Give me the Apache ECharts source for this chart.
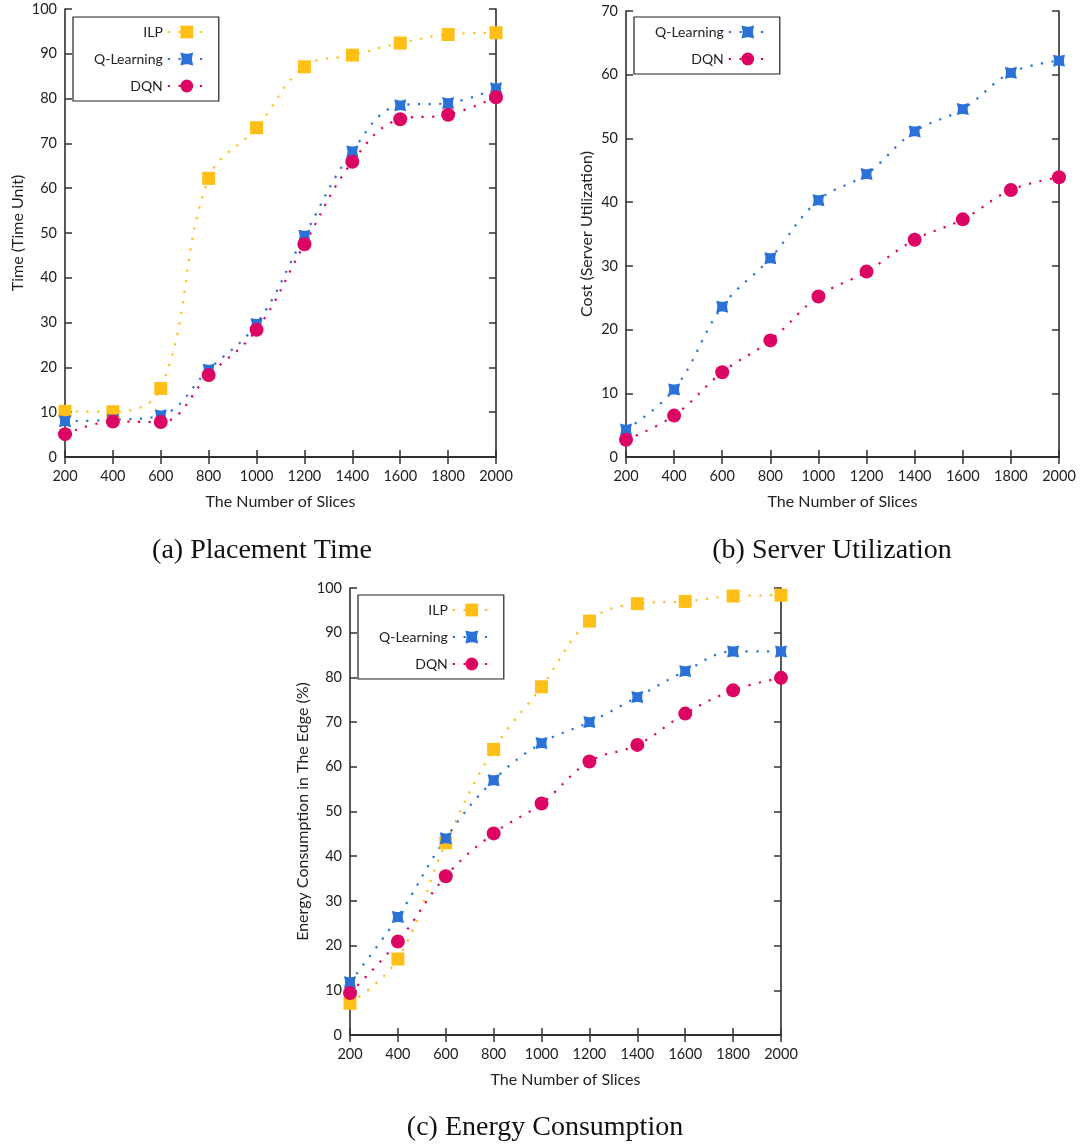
<!DOCTYPE html>
<html>
<head>
<meta charset="utf-8">
<script src="https://cdn.jsdelivr.net/npm/echarts@6/dist/echarts.min.js"></script>
<style>
  html, body { margin: 0; padding: 0; background: #fff; }
  #chart { width: 1090px; height: 1144px; }
</style>
</head>
<body>
<div id="chart"></div>
<script>
// x 轴：切片数量
var slices = [200, 400, 600, 800, 1000, 1200, 1400, 1600, 1800, 2000];

// (a) 放置时间
var timeILP = [10.2, 10.1, 15.3, 62.2, 73.5, 87.1, 89.7, 92.4, 94.3, 94.7];
var timeQL  = [8.0, 8.3, 9.3, 19.5, 29.7, 49.4, 68.2, 78.5, 79.0, 82.3];
var timeDQN = [5.1, 7.9, 7.8, 18.3, 28.4, 47.5, 65.9, 75.4, 76.4, 80.3];

// (b) 服务器利用率
var costQL  = [4.3, 10.6, 23.6, 31.2, 40.3, 44.4, 51.1, 54.6, 60.3, 62.2];
var costDQN = [2.7, 6.5, 13.3, 18.3, 25.2, 29.1, 34.1, 37.3, 41.9, 43.9];

// (c) 能耗
var energyILP = [7.1, 17.0, 43.0, 63.9, 77.9, 92.6, 96.5, 97.0, 98.2, 98.4];
var energyQL  = [11.8, 26.4, 44.0, 57.0, 65.3, 70.0, 75.6, 81.4, 85.8, 85.8];
var energyDQN = [9.4, 20.9, 35.5, 45.1, 51.8, 61.2, 64.9, 71.9, 77.1, 79.9];

(function () {
    var myChart = echarts.init(document.getElementById('chart'));
    var font = 'Lato, "Open Sans", sans-serif';
    var qlSymbol = 'path://M0,0L4,0.9L6,0.9L10,0L9.1,4L9.1,6L10,10L6,9.1L4,9.1L0,10L0.9,6L0.9,4Z';
    var styles = {
        'ILP':        { color: '#ffbf17', symbol: 'rect', size: 13 },
        'Q-Learning': { color: '#2b72d8', symbol: qlSymbol, size: 12 },
        'DQN':        { color: '#dc0563', symbol: 'circle', size: 14 }
    };

    var grids = [
        { left: 65, top: 9, width: 431, height: 448 },
        { left: 626, top: 11, width: 433, height: 446 },
        { left: 350, top: 588, width: 431, height: 447 }
    ];
    var yMax = [100, 70, 100];
    var yNames = ['Time (Time Unit)', 'Cost (Server Utilization)', 'Energy Consumption in The Edge (%)'];
    var yGaps = [39, 31, 39];

    var xAxis = [], yAxis = [];
    grids.forEach(function (g, i) {
        // 底部和顶部 x 轴（顶部只画刻度）
        ['bottom', 'top'].forEach(function (pos) {
            xAxis.push({
                type: 'value', gridIndex: i, position: pos,
                min: 200, max: 2000, interval: 200,
                name: pos === 'bottom' ? 'The Number of Slices' : '',
                nameLocation: 'middle', nameGap: 37,
                nameTextStyle: { fontFamily: font, fontSize: 16, color: '#222' },
                axisLine: { lineStyle: { color: '#222', width: 1.5 } },
                axisTick: { inside: true, length: 7, lineStyle: { color: '#333', width: 1.5 } },
                axisLabel: {
                    show: pos === 'bottom', fontFamily: font, fontSize: 14.5, color: '#222', margin: 12,
                    formatter: function (v) { return String(v); }
                },
                splitLine: { show: false }
            });
        });
        // 左右 y 轴
        ['left', 'right'].forEach(function (pos) {
            yAxis.push({
                type: 'value', gridIndex: i, position: pos,
                min: 0, max: yMax[i], interval: 10,
                name: pos === 'left' ? yNames[i] : '',
                nameLocation: 'middle', nameGap: yGaps[i],
                nameTextStyle: { fontFamily: font, fontSize: 16, color: '#222' },
                axisLine: { show: true, lineStyle: { color: '#222', width: 1.5 } },
                axisTick: { show: true, inside: true, length: 7, lineStyle: { color: '#333', width: 1.5 } },
                axisLabel: { show: pos === 'left', fontFamily: font, fontSize: 14.5, color: '#222', margin: 8 },
                splitLine: { show: false }
            });
        });
    });

    function makeSeries(name, values, gi) {
        var s = styles[name];
        return {
            name: name, type: 'line',
            xAxisIndex: gi * 2, yAxisIndex: gi * 2,
            data: slices.map(function (x, k) { return [x, values[k]]; }),
            smooth: 0.4,
            symbol: s.symbol, symbolSize: s.size, showSymbol: true,
            itemStyle: { color: s.color },
            lineStyle: { color: s.color, width: 2.2, type: [2.2, 8.5] },
            emphasis: { disabled: true },
            animation: false
        };
    }

    var series = [
        makeSeries('ILP', timeILP, 0),
        makeSeries('Q-Learning', timeQL, 0),
        makeSeries('DQN', timeDQN, 0),
        makeSeries('Q-Learning', costQL, 1),
        makeSeries('DQN', costDQN, 1),
        makeSeries('ILP', energyILP, 2),
        makeSeries('Q-Learning', energyQL, 2),
        makeSeries('DQN', energyDQN, 2)
    ];
    // 每个子图的图例只对应自己的系列，这里给名字做区分
    var suffix = ['', '', '', ' ', ' ', '  ', '  ', '  '];
    series.forEach(function (s, k) { s.name = s.name + suffix[k]; });

    function makeLegend(names, left, top) {
        return {
            data: names, left: left, top: top, orient: 'vertical', align: 'right',
            padding: [8, 12, 8, 21], itemGap: 13, itemWidth: 38, itemHeight: 16,
            borderColor: '#222', borderWidth: 1.2, borderRadius: 0,
            selectedMode: false,
            textStyle: { fontFamily: font, fontSize: 14, color: '#222' },
            formatter: function (n) { return n.trim(); }
        };
    }

    var titleStyle = { fontFamily: '"Liberation Serif", "DejaVu Serif", serif', fontSize: 28, fontWeight: 'normal', color: '#111' };
    var option = {
        backgroundColor: '#fff',
        animation: false,
        title: [
            { text: '(a) Placement Time', left: 257, top: 532, textAlign: 'center', textStyle: titleStyle },
            { text: '(b) Server Utilization', left: 827, top: 532, textAlign: 'center', textStyle: titleStyle },
            { text: '(c) Energy Consumption', left: 540, top: 1109, textAlign: 'center', textStyle: titleStyle }
        ],
        legend: [
            makeLegend(['ILP', 'Q-Learning', 'DQN'], 73, 17),
            makeLegend(['Q-Learning ', 'DQN '], 634, 17),
            makeLegend(['ILP  ', 'Q-Learning  ', 'DQN  '], 358, 595)
        ],
        grid: grids,
        xAxis: xAxis,
        yAxis: yAxis,
        series: series
    };
    myChart.setOption(option);
    window.addEventListener('resize', function () {
        myChart.resize();
    });
})();
</script>
</body>
</html>
